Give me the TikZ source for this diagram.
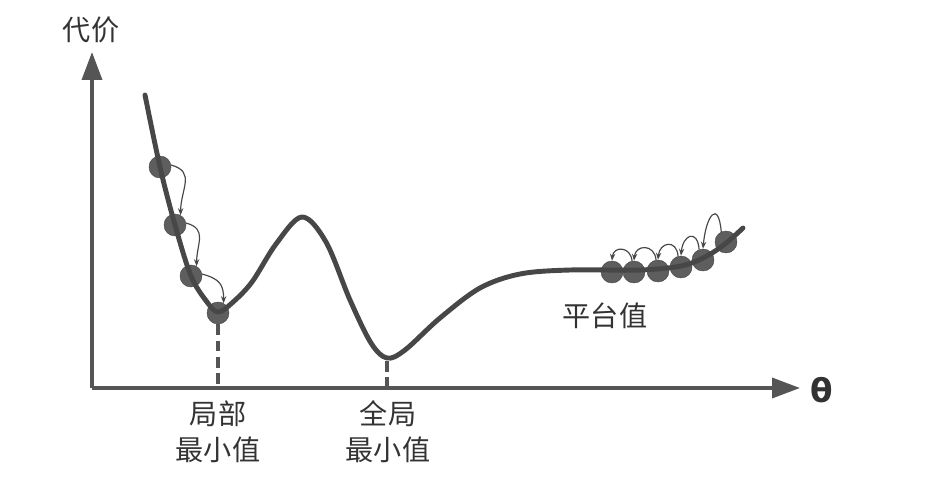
\documentclass[tikz,border=0pt]{standalone}
\usepackage{fontspec}
\setmainfont{Noto Sans CJK SC}
\newfontfamily\thetafont{DejaVu Sans}
\usetikzlibrary{arrows.meta}

\definecolor{axisgray}{HTML}{555555}
\definecolor{curvegray}{HTML}{474747}
\definecolor{ballgray}{HTML}{5E5E5E}
\definecolor{textgray}{HTML}{333333}

\begin{document}
\begin{tikzpicture}[x=0.03cm, y=-0.03cm, >={Stealth[length=6pt, width=4.5pt]},
		axis/.style={line width=3pt, draw=axisgray, -{Triangle[length=0.84cm, width=0.6cm]}, fill=axisgray},
		cost/.style={line width=4.2pt, draw=curvegray, line cap=round, line join=round},
		ball/.style={circle, fill=ballgray, draw=ballgray!75!black, inner sep=0pt, minimum size=0.66cm},
		hop/.style={->, draw=curvegray, line width=1pt},
		guide/.style={draw=axisgray, line width=2.6pt, dash pattern=on 9pt off 5pt},
		lbl/.style={font=\fontsize{24}{31}\selectfont, text=textgray, align=center}]
	\useasboundingbox (0,0) rectangle (942,480);

	% axes
	\coordinate (O) at (92,388);
	\coordinate (ytop) at (92,52);
	\coordinate (xend) at (800,388);
	\draw[axis] (O) -- (ytop);
	\draw[axis] (O) -- (xend);
	\node[lbl] (cost label) at (91,30) {代价};
	\node[text=textgray, font=\thetafont\bfseries\fontsize{28}{28}\selectfont] (theta) at (822,390) {θ};

	% balls rolling down to the local minimum
	\node[ball] (b1) at (160,167) {};
	\node[ball] (b2) at (175,225) {};
	\node[ball] (b3) at (191,276) {};
	\node[ball] (b4) at (218,313) {};

	% balls on the plateau
	\node[ball] (p1) at (612,272) {};
	\node[ball] (p2) at (634,272) {};
	\node[ball] (p3) at (658,271) {};
	\node[ball] (p4) at (681,267) {};
	\node[ball] (p5) at (703,260) {};
	\node[ball] (p6) at (726,242) {};

	% cost curve
	\draw[cost] plot[smooth, tension=0.55] coordinates {
		(145,95) (160,167) (175,225) (191,276) (207,302) (218,312)
		(232,303) (252,282) (276,244) (302,217) (326,242) (350,300)
		(371,343) (387,358) (405,350) (440,318) (480,288) (520,274)
		(570,270) (640,270) (681,266) (705,257) (725,244) (743,228)};

	% minima
	\coordinate (lmin axis) at (218,388);
	\coordinate (gmin) at (387,361);
	\coordinate (gmin axis) at (387,388);
	\draw[guide] (b4.south) -- (lmin axis);
	\draw[guide] (gmin) -- (gmin axis);
	\node[lbl] (lmin label) at (218,432) {局部\\最小值};
	\node[lbl] (gmin label) at (388,432) {全局\\最小值};
	\node[lbl] (plateau label) at (605,316) {平台值};

	% hops
	\path (b1.10) edge[hop, out=-15, in=90, looseness=1.3] (b2.60)
		(b2.10) edge[hop, out=-15, in=90, looseness=1.3] (b3.60)
		(b3.10) edge[hop, out=-15, in=90, looseness=1.3] (b4.60)
		(p6.115) edge[hop, out=95, in=85, looseness=3.4] (p5.north)
		(p5.110) edge[hop, out=95, in=85, looseness=2.8] (p4.north)
		(p4.105) edge[hop, out=95, in=85, looseness=2.2] (p3.north)
		(p3.100) edge[hop, out=95, in=85, looseness=1.9] (p2.north)
		(p2.100) edge[hop, out=95, in=85, looseness=1.9] (p1.north);
\end{tikzpicture}
\end{document}
